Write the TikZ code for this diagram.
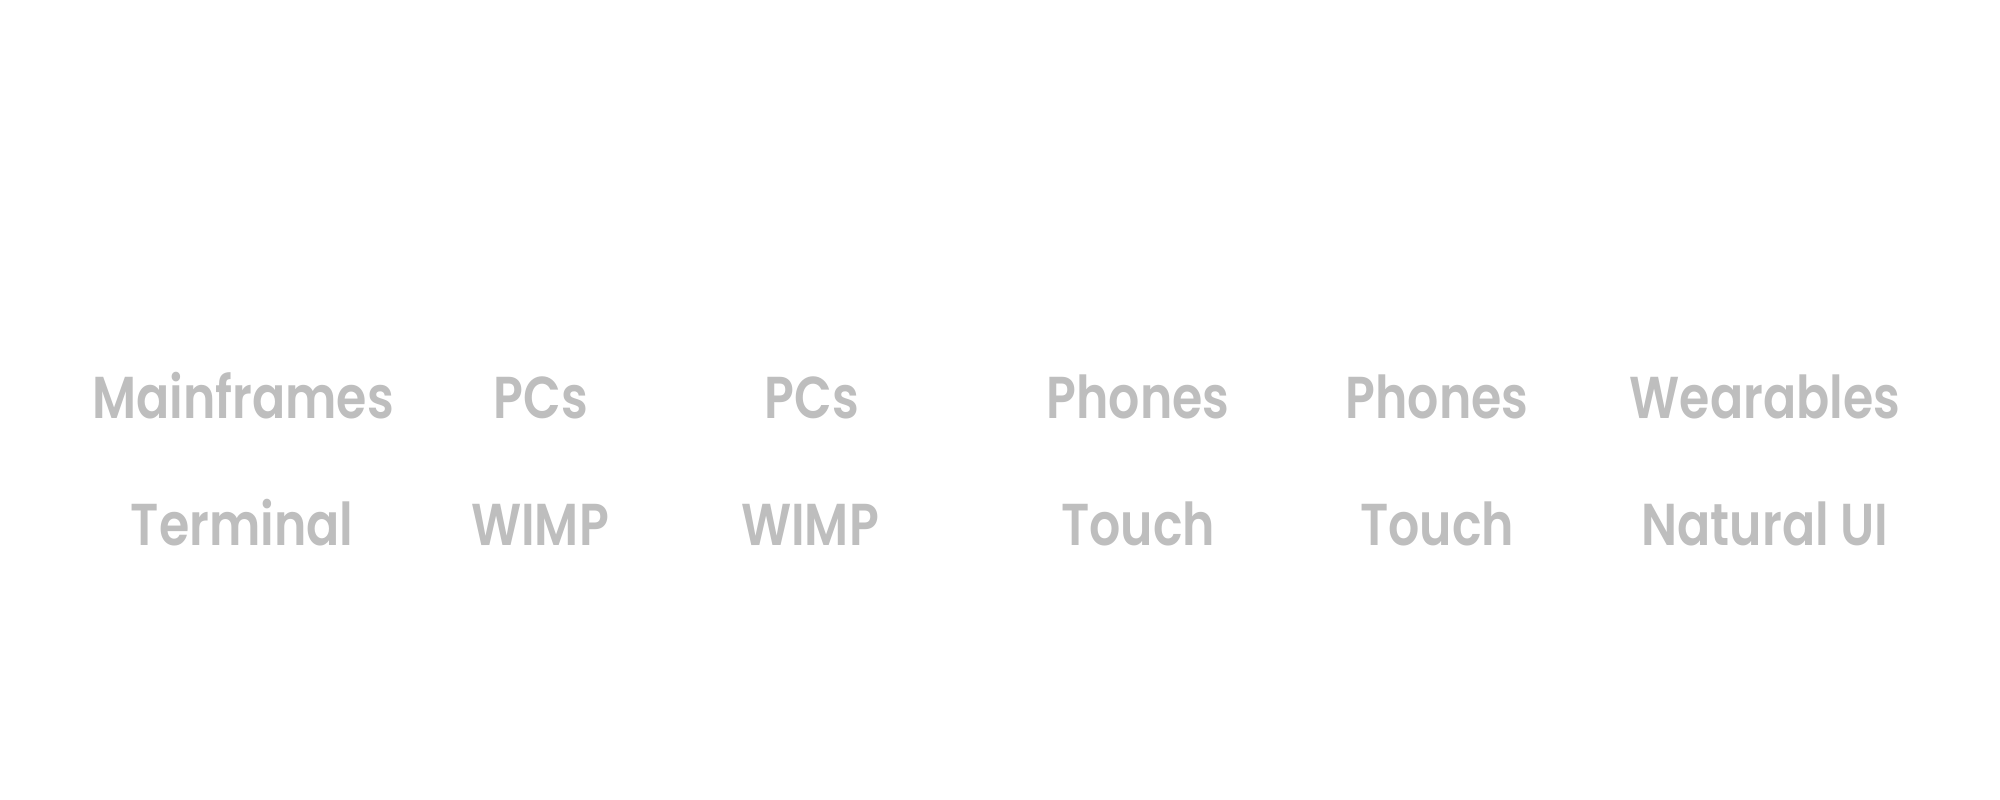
\documentclass[tikz,border=0pt]{standalone}
\usepackage{fontspec}
\setmainfont{Poppins}
\newfontfamily\lblfont{Poppins SemiBold}[FakeStretch=0.83]
\definecolor{labelgray}{RGB}{190,190,190}
\begin{document}
\begin{tikzpicture}[x=1cm,y=1cm,
  lbl/.style={anchor=base, inner sep=0pt, text=labelgray, font=\lblfont\fontsize{16.8}{20}\selectfont}]
\useasboundingbox[fill=white] (0,0) rectangle (20,8);
\node[lbl] (d1) at (2.43,3.81) {Mainframes};
\node[lbl] (d2) at (5.41,3.81) {PCs};
\node[lbl] (d3) at (8.12,3.81) {PCs};
\node[lbl] (d4) at (11.38,3.81) {Phones};
\node[lbl] (d5) at (14.37,3.81) {Phones};
\node[lbl] (d6) at (17.65,3.81) {Wearables};
\node[lbl] (u1) at (2.42,2.54) {Terminal};
\node[lbl] (u2) at (5.40,2.54) {WIMP};
\node[lbl] (u3) at (8.10,2.54) {WIMP};
\node[lbl] (u4) at (11.38,2.54) {Touch};
\node[lbl] (u5) at (14.37,2.54) {Touch};
\node[lbl] (u6) at (17.65,2.54) {Natural UI};
\end{tikzpicture}
\end{document}
